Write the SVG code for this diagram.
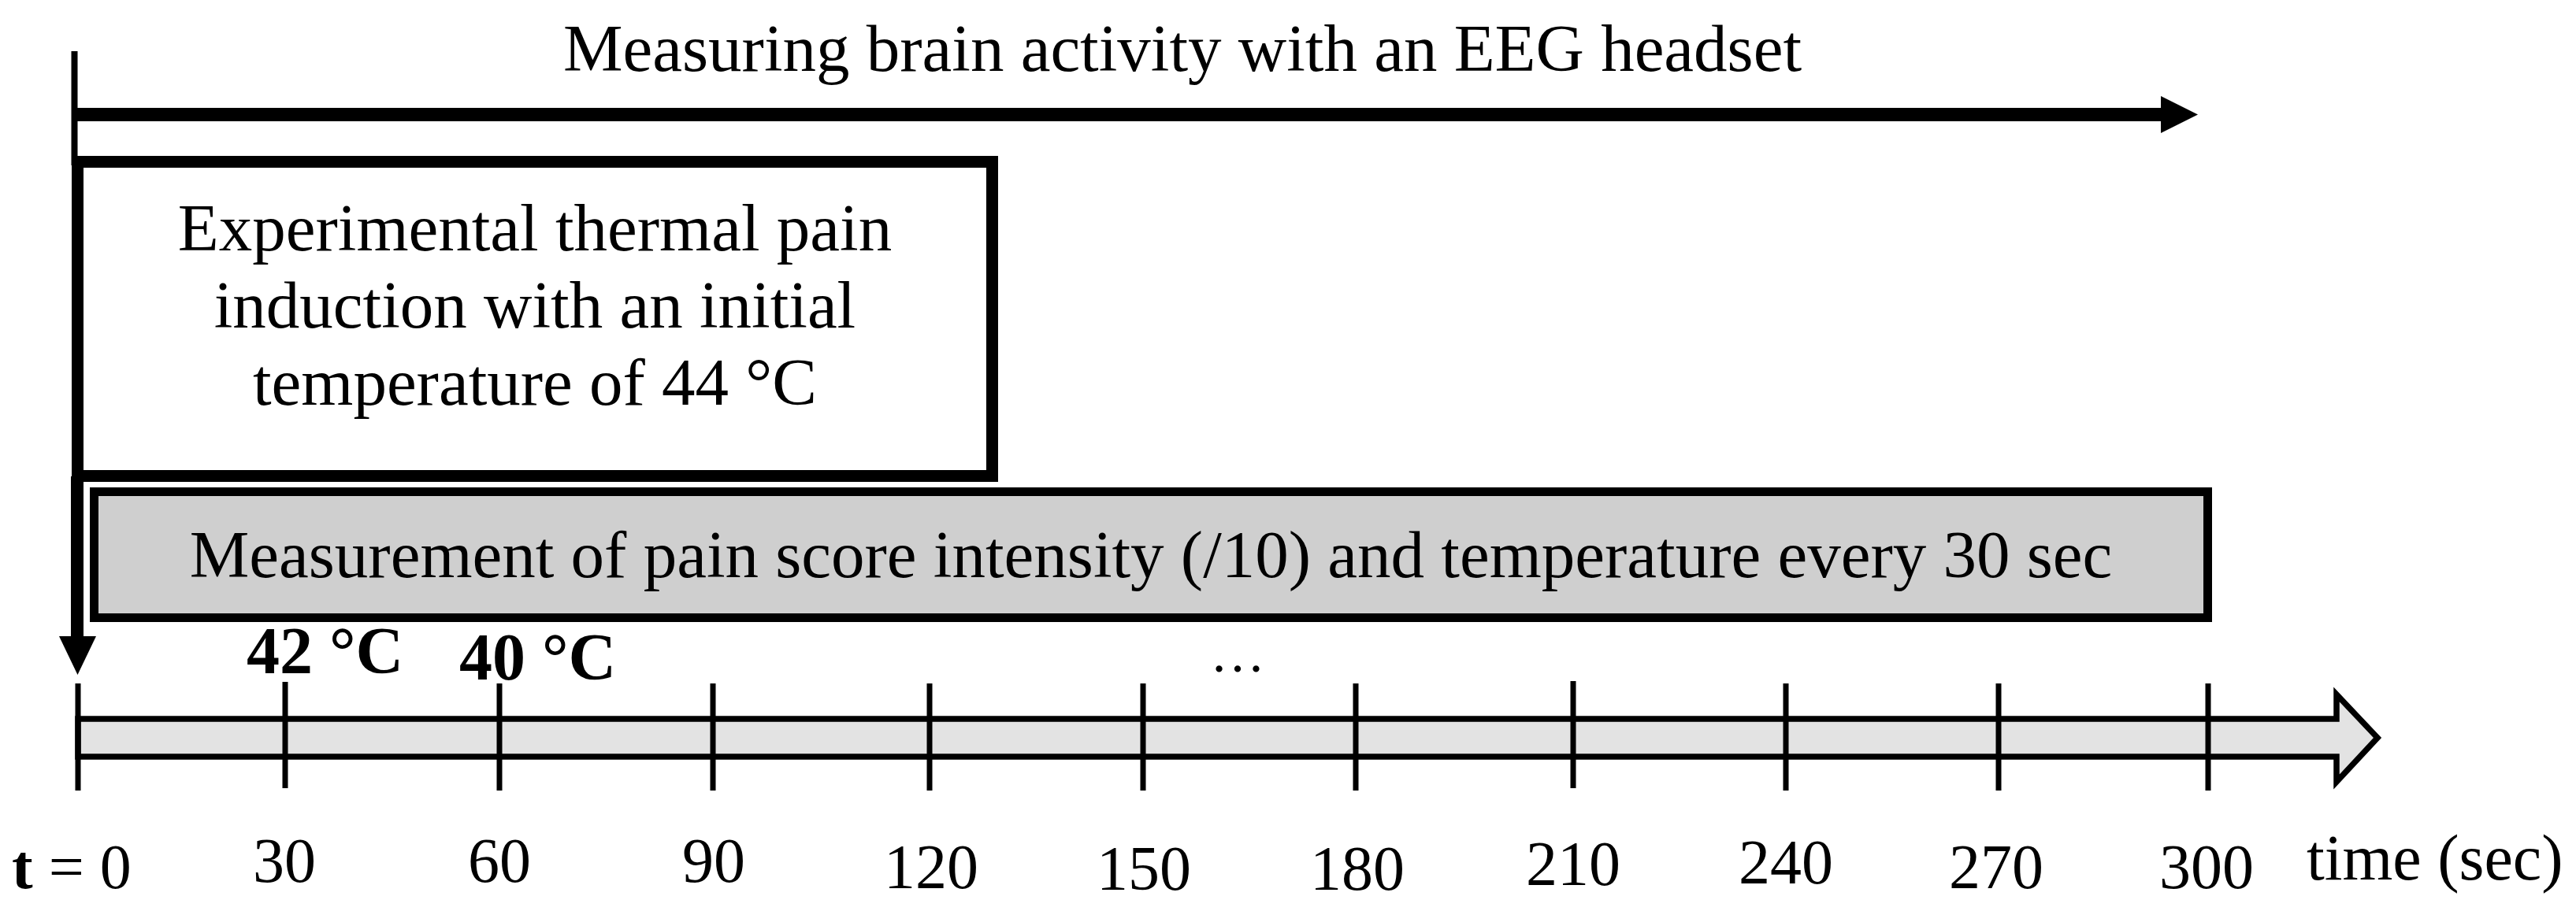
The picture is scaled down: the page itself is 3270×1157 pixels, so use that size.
<svg xmlns="http://www.w3.org/2000/svg" width="3270" height="1157" viewBox="0 0 3270 1157">
<style>
text{font-family:"Liberation Serif","Times New Roman",serif;fill:#000}
.t85{font-size:85px}
.lab{font-size:80px;text-anchor:middle}
.bold{font-weight:bold}
.tick{stroke:#000;stroke-width:7}
</style>
<rect width="3270" height="1157" fill="#fff"/>
<g id="connectors">
<line x1="94.5" y1="65" x2="94.5" y2="210" stroke="#000" stroke-width="8"/>
<line x1="98" y1="605" x2="98" y2="815" stroke="#000" stroke-width="16"/>
<polygon points="75,808 122,808 98.5,857" fill="#000"/>
<line x1="91" y1="145.5" x2="2745" y2="145.5" stroke="#000" stroke-width="17"/>
<polygon points="2743,122 2790,145.5 2743,169" fill="#000"/>
</g>
<g id="eeg-label">
<text class="t85" x="1501" y="90" text-anchor="middle">Measuring brain activity with an EEG headset</text>
</g>
<g id="induction-box">
<rect x="98.5" y="205.5" width="1161" height="399" fill="#fff" stroke="#000" stroke-width="15"/>
<text class="t85" text-anchor="middle"><tspan x="679" y="318">Experimental thermal pain</tspan><tspan x="679" y="416">induction with an initial</tspan><tspan x="679" y="514">temperature of 44 °C</tspan></text>
</g>
<g id="measurement-box">
<rect x="119.5" y="624.5" width="2683" height="160" fill="#cfcfcf" stroke="#000" stroke-width="11"/>
<text class="t85" x="1461" y="733" text-anchor="middle">Measurement of pain score intensity (/10) and temperature every 30 sec</text>
</g>
<g id="timeline">
<path d="M99,913 H2966 V882 L3018,937 L2966,993 V961 H99 Z" fill="#e3e3e3" stroke="#000" stroke-width="7.5" stroke-linejoin="miter"/>
<line class="tick" x1="99" y1="868" x2="99" y2="1004"/>
<line class="tick" x1="362" y1="866" x2="362" y2="1001"/>
<line class="tick" x1="634" y1="868" x2="634" y2="1004"/>
<line class="tick" x1="905" y1="868" x2="905" y2="1004"/>
<line class="tick" x1="1180" y1="868" x2="1180" y2="1004"/>
<line class="tick" x1="1451" y1="868" x2="1451" y2="1004"/>
<line class="tick" x1="1721" y1="868" x2="1721" y2="1004"/>
<line class="tick" x1="1997" y1="865" x2="1997" y2="1001"/>
<line class="tick" x1="2267" y1="868" x2="2267" y2="1004"/>
<line class="tick" x1="2537" y1="868" x2="2537" y2="1004"/>
<line class="tick" x1="2803" y1="868" x2="2803" y2="1004"/>
</g>
<g id="temps">
<text class="bold" x="313" y="855" font-size="84px">42 °C</text>
<text class="bold" x="583" y="863" font-size="84px">40 °C</text>
<text x="1536" y="853" font-size="70px">…</text>
</g>
<g id="tick-labels">
<text x="15" y="1128" font-size="80px"><tspan font-weight="bold">t</tspan> = 0</text>
<text class="lab" x="361" y="1120">30</text>
<text class="lab" x="634" y="1120">60</text>
<text class="lab" x="906" y="1120">90</text>
<text class="lab" x="1182" y="1128">120</text>
<text class="lab" x="1452" y="1130">150</text>
<text class="lab" x="1723" y="1130">180</text>
<text class="lab" x="1997" y="1124">210</text>
<text class="lab" x="2267" y="1122">240</text>
<text class="lab" x="2534" y="1128">270</text>
<text class="lab" x="2801" y="1128">300</text>
<text x="2928" y="1117" font-size="82px">time (sec)</text>
</g>
</svg>
